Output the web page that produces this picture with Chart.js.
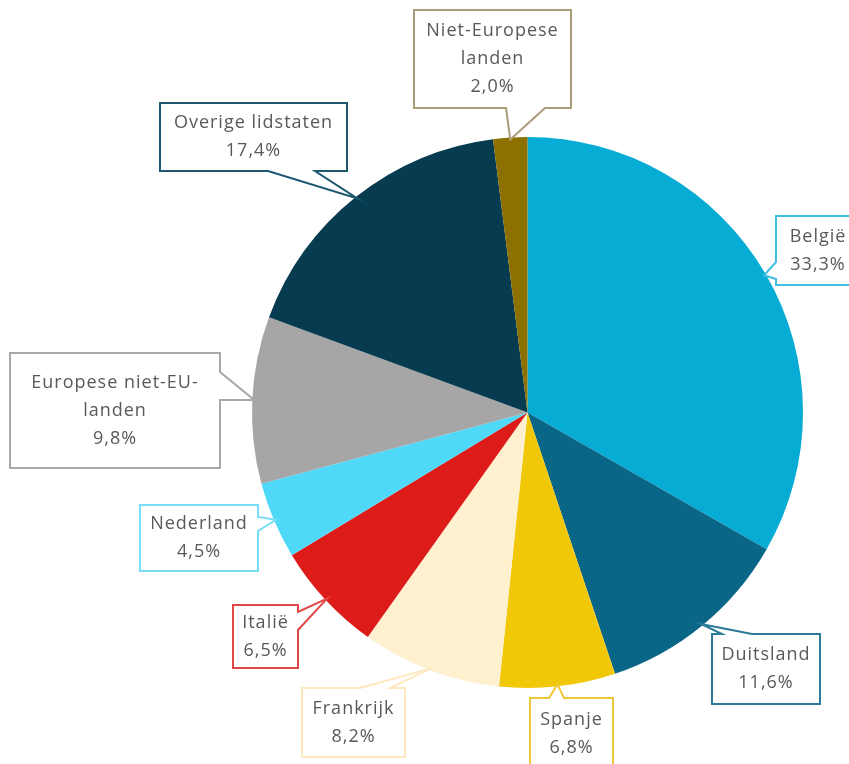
<!DOCTYPE html>
<html>
<head>
<meta charset="utf-8">
<script src="https://cdn.jsdelivr.net/npm/chart.js@4.4.1/dist/chart.umd.min.js"></script>
<style>
  html, body { margin: 0; padding: 0; background: #ffffff; }
  #wrap { width: 849px; height: 764px; }
</style>
</head>
<body>
<div id="wrap"><canvas id="c" width="849" height="764"></canvas></div>
<script>
// ---- data ----
const categories = ['België', 'Duitsland', 'Spanje', 'Frankrijk', 'Italië', 'Nederland', 'Europese niet-EU-landen', 'Overige lidstaten', 'Niet-Europese landen'];
const values = [33.3, 11.6, 6.8, 8.2, 6.5, 4.5, 9.8, 17.4, 2.0];
const labelLines = [['België'], ['Duitsland'], ['Spanje'], ['Frankrijk'], ['Italië'], ['Nederland'], ['Europese niet-EU-', 'landen'], ['Overige lidstaten'], ['Niet-Europese', 'landen']];

// ---- styles ----
const sliceColors = ['#07ACD5', '#0A6686', '#F0C808', '#FFF0D0', '#DD1C1A', '#50D8F8', '#A6A6A6', '#063B50', '#8C7000'];
const boxColors = ['#40BEE2', '#2A7A98', '#EFC73A', '#FFE8BE', '#E04848', '#78DDF8', '#A8A8A8', '#1D5870', '#A99C78'];
// callout box layout: x, y, w, h, side of pointer, base start/end along that side
const boxLayout = [
  { x: 776, y: 216, w: 90, h: 69, side: 'left', b1: 262, b2: 279 },
  { x: 712, y: 634, w: 108, h: 70, side: 'top', b1: 722, b2: 752 },
  { x: 530, y: 698, w: 83, h: 72, side: 'top', b1: 549, b2: 564 },
  { x: 302, y: 688, w: 103, h: 69, side: 'top', b1: 360, b2: 390 },
  { x: 233, y: 605, w: 65, h: 63, side: 'right', b1: 612, b2: 630 },
  { x: 140, y: 505, w: 118, h: 66, side: 'right', b1: 517, b2: 531 },
  { x: 10, y: 353, w: 210, h: 115, side: 'right', b1: 372, b2: 400 },
  { x: 160, y: 103, w: 187, h: 68, side: 'bottom', b1: 268, b2: 315 },
  { x: 414, y: 10, w: 157, h: 98, side: 'bottom', b1: 506, b2: 545 }
];
const fontSpec = '18px "Open Sans"';
const lineH = 28;

function fmt(v) { return v.toFixed(1).replace('.', ',') + '%'; }

const calloutPlugin = {
  id: 'callouts',
  afterDatasetsDraw(chart) {
    const ctx = chart.ctx;
    const arcs = chart.getDatasetMeta(0).data;
    arcs.forEach((arc, i) => {
      const L = boxLayout[i];
      const mid = (arc.startAngle + arc.endAngle) / 2;
      const r = arc.outerRadius - 2;
      const tx = arc.x + Math.cos(mid) * r;
      const ty = arc.y + Math.sin(mid) * r;
      const x0 = L.x, y0 = L.y, x1 = L.x + L.w, y1 = L.y + L.h;
      let pts;
      if (L.side === 'bottom') {
        pts = [[x0, y0], [x1, y0], [x1, y1], [L.b2, y1], [tx, ty], [L.b1, y1], [x0, y1]];
      } else if (L.side === 'top') {
        pts = [[x0, y0], [L.b1, y0], [tx, ty], [L.b2, y0], [x1, y0], [x1, y1], [x0, y1]];
      } else if (L.side === 'right') {
        pts = [[x0, y0], [x1, y0], [x1, L.b1], [tx, ty], [x1, L.b2], [x1, y1], [x0, y1]];
      } else {
        pts = [[x0, y0], [x1, y0], [x1, y1], [x0, y1], [x0, L.b2], [tx, ty], [x0, L.b1]];
      }
      ctx.save();
      ctx.beginPath();
      pts.forEach((p, k) => k ? ctx.lineTo(p[0], p[1]) : ctx.moveTo(p[0], p[1]));
      ctx.closePath();
      ctx.fillStyle = '#ffffff';
      ctx.fill();
      ctx.lineWidth = 2;
      ctx.lineJoin = 'miter';
      ctx.strokeStyle = boxColors[i];
      ctx.stroke();
      const lines = labelLines[i].concat([fmt(values[i])]);
      ctx.font = fontSpec;
      if ('letterSpacing' in ctx) ctx.letterSpacing = '1px';
      ctx.fillStyle = '#595959';
      ctx.textAlign = 'center';
      ctx.textBaseline = 'middle';
      const cx = (x0 + x1) / 2;
      const cxUse = i === 0 ? x0 + 42 : cx;
      const startY = (y0 + y1) / 2 - (lines.length - 1) * lineH / 2;
      lines.forEach((t, k) => ctx.fillText(t, cxUse, startY + k * lineH));
      ctx.restore();
    });
  }
};

new Chart(document.getElementById('c'), {
  type: 'pie',
  data: {
    labels: categories,
    datasets: [{
      data: values,
      backgroundColor: sliceColors,
      borderWidth: 0
    }]
  },
  options: {
    responsive: false,
    animation: false,
    devicePixelRatio: 1,
    rotation: 0,
    layout: { padding: { left: 252, right: 46, top: 137, bottom: 76 } },
    plugins: {
      legend: { display: false },
      tooltip: { enabled: false },
      title: { display: false }
    }
  },
  plugins: [calloutPlugin]
});
</script>
</body>
</html>
